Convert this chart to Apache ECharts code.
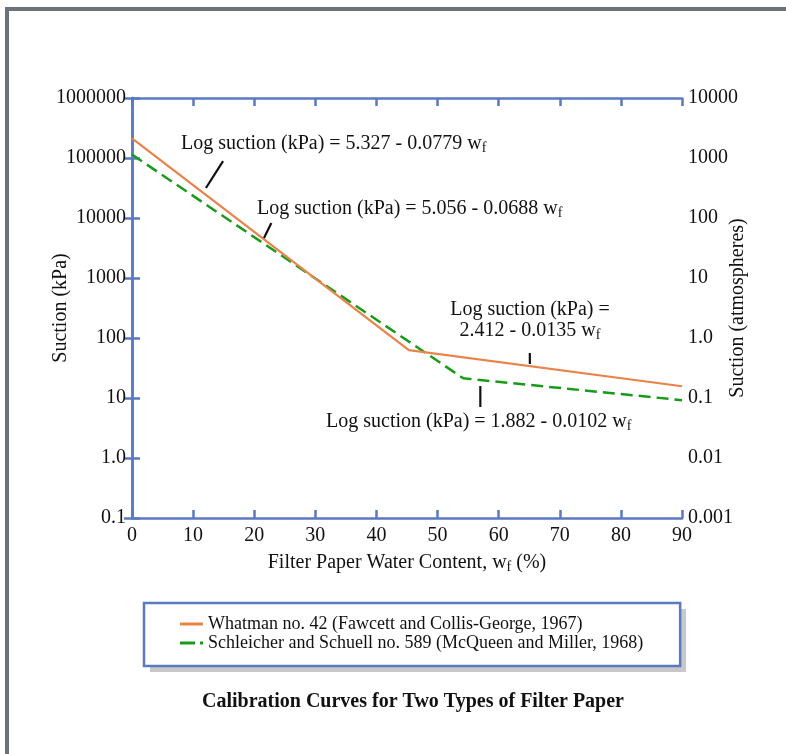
<!DOCTYPE html>
<html><head><meta charset="utf-8">
<script src="https://cdn.jsdelivr.net/npm/echarts@6/dist/echarts.min.js"></script>
<style>html,body{margin:0;padding:0;background:#fff}#c{width:786px;height:754px}</style>
</head><body><div id="c"></div>
<script>
// ---- data ----
const seriesNames = [
  'Whatman no. 42 (Fawcett and Collis-George, 1967)',
  'Schleicher and Schuell no. 589 (McQueen and Miller, 1968)'
];
const whatmanW = [0, 45.3, 90];
const whatmanSuction = [212000, 63, 15.7];
const schleicherW = [0, 54.2, 90];
const schleicherSuction = [114000, 21.3, 9.2];
const leftTickLabels = ['0.1', '1.0', '10', '100', '1000', '10000', '100000', '1000000'];
const rightTickLabels = ['0.001', '0.01', '0.1', '1.0', '10', '100', '1000', '10000'];
// leader lines in data coordinates [water content, suction kPa]
const leaderLines = [
  [[12.1, 31600], [14.9, 89000]],
  [[22.8, 8260], [21.6, 4640]],
  [[65.1, 56.2], [65.1, 36.9]],
  [[57.0, 15.8], [57.0, 7.08]]
];
const equations = [
  'Log suction (kPa) = 5.327 - 0.0779 w{s|f}',
  'Log suction (kPa) = 5.056 - 0.0688 w{s|f}',
  'Log suction (kPa) =',
  '2.412 - 0.0135 w{s|f}',
  'Log suction (kPa) = 1.882 - 0.0102 w{s|f}'
];
const chartTitle = 'Calibration Curves for Two Types of Filter Paper';

const FONT = '"Liberation Serif", "Times New Roman", serif';
const AXIS = '#5b79c0';
const ORANGE = '#e8834a';
const GREEN = '#1a9a1a';

function zip(a, b) { return a.map((v, i) => [v, b[i]]); }

const chart = echarts.init(document.getElementById('c'), null, {renderer: 'canvas'});
const axisCommon = {
  nameMoveOverlap: false,
  axisLine: {show: true, lineStyle: {color: AXIS, width: 2.5}},
  axisTick: {show: true, inside: true, length: 8, lineStyle: {color: AXIS, width: 2.5}},
  splitLine: {show: false}
};
chart.setOption({
  animation: false,
  backgroundColor: '#fff',
  grid: {left: 132, right: 104, top: 98, bottom: 236, containLabel: false},
  xAxis: [
    Object.assign({
      type: 'value', min: 0, max: 90, interval: 10, position: 'bottom',
      name: 'Filter Paper Water Content, w{s|f} (%)', nameLocation: 'middle', nameGap: 34,
      nameTextStyle: {fontFamily: FONT, fontSize: 20, color: '#111', lineHeight: 22,
        rich: {s: {fontFamily: FONT, fontSize: 14, lineHeight: 14, verticalAlign: 'bottom', color: '#111'}}},
      axisLabel: {fontFamily: FONT, fontSize: 20, color: '#111', margin: 8}
    }, axisCommon),
    Object.assign({
      type: 'value', min: 0, max: 90, interval: 10, position: 'top',
      axisLabel: {show: false}
    }, axisCommon)
  ],
  yAxis: [
    Object.assign({
      type: 'log', logBase: 10, min: 0.1, max: 1000000, position: 'left',
      name: 'Suction (kPa)', nameLocation: 'middle', nameGap: 61, nameRotate: 90,
      nameTextStyle: {fontFamily: FONT, fontSize: 20, color: '#111'},
      axisLabel: {fontFamily: FONT, fontSize: 20, color: '#111', margin: 6,
        formatter: v => leftTickLabels[Math.round(Math.log10(v)) + 1]}
    }, axisCommon),
    Object.assign({
      type: 'log', logBase: 10, min: 0.001, max: 10000, position: 'right',
      name: 'Suction (atmospheres)', nameLocation: 'middle', nameGap: 46, nameRotate: 90,
      nameTextStyle: {fontFamily: FONT, fontSize: 20, color: '#111'},
      axisLabel: {fontFamily: FONT, fontSize: 20, color: '#111', margin: 6,
        formatter: v => rightTickLabels[Math.round(Math.log10(v)) + 3]}
    }, axisCommon)
  ],
  legend: {
    orient: 'vertical', left: 144, top: 603, z: 5,
    padding: [12, 37, 14, 36], itemGap: 1, itemWidth: 23, itemHeight: 3,
    backgroundColor: '#fff', borderColor: AXIS, borderWidth: 2.5,
    textStyle: {fontFamily: FONT, fontSize: 18, color: '#111', lineHeight: 18},
    itemStyle: {borderWidth: 0},
    selectedMode: false,
    data: [
      {name: seriesNames[0], icon: 'path://M0,0H23V3H0Z'},
      {name: seriesNames[1], icon: 'path://M0,0H15V3H0Z M20,0H23V3H20Z'}
    ]
  },
  series: [
    {name: seriesNames[0], type: 'line', xAxisIndex: 0, yAxisIndex: 0,
     data: zip(whatmanW, whatmanSuction), showSymbol: false, symbol: 'none',
     lineStyle: {color: ORANGE, width: 2.2}, itemStyle: {color: ORANGE}, z: 3},
    {name: seriesNames[1], type: 'line', xAxisIndex: 0, yAxisIndex: 0,
     data: zip(schleicherW, schleicherSuction), showSymbol: false, symbol: 'none',
     lineStyle: {color: GREEN, width: 2.5, type: [12, 6]}, itemStyle: {color: GREEN}, z: 2}
  ]
});

const richSub = {
  s: {fontFamily: FONT, fontSize: 14, lineHeight: 14, verticalAlign: 'bottom', fill: '#111'}
};
function eqText(str, x, y, align) {
  return {type: 'text', z: 10, style: {text: str, x: x, y: y, fill: '#111',
    fontFamily: FONT, fontSize: 20, lineHeight: 22, align: align || 'left', verticalAlign: 'middle',
    rich: richSub}};
}
const g = [
  // page frame
  {type: 'rect', z: 0, shape: {x: 5, y: 7, width: 781, height: 4}, style: {fill: '#6a737a'}},
  {type: 'rect', z: 0, shape: {x: 5, y: 7, width: 4, height: 747}, style: {fill: '#6a737a'}},
  // legend drop shadow
  {type: 'rect', z: 1, shape: {x: 150, y: 609, width: 536, height: 63}, style: {fill: '#c8c8c8'}},
  eqText(equations[0], 181, 144),
  eqText(equations[1], 257, 209),
  eqText(equations[2], 530, 310, 'center'),
  eqText(equations[3], 530, 331, 'center'),
  eqText(equations[4], 326, 422),
  {type: 'text', z: 10, style: {text: chartTitle, x: 413, y: 702, align: 'center', verticalAlign: 'middle',
    fontFamily: FONT, fontSize: 20, fontWeight: 'bold', fill: '#111'}}
];
leaderLines.forEach(l => {
  const p1 = chart.convertToPixel({xAxisIndex: 0, yAxisIndex: 0}, l[0]);
  const p2 = chart.convertToPixel({xAxisIndex: 0, yAxisIndex: 0}, l[1]);
  g.push({type: 'line', z: 10, shape: {x1: p1[0], y1: p1[1], x2: p2[0], y2: p2[1]},
    style: {stroke: '#111', lineWidth: 2.2}});
});
chart.setOption({graphic: g});
</script>
</body></html>
